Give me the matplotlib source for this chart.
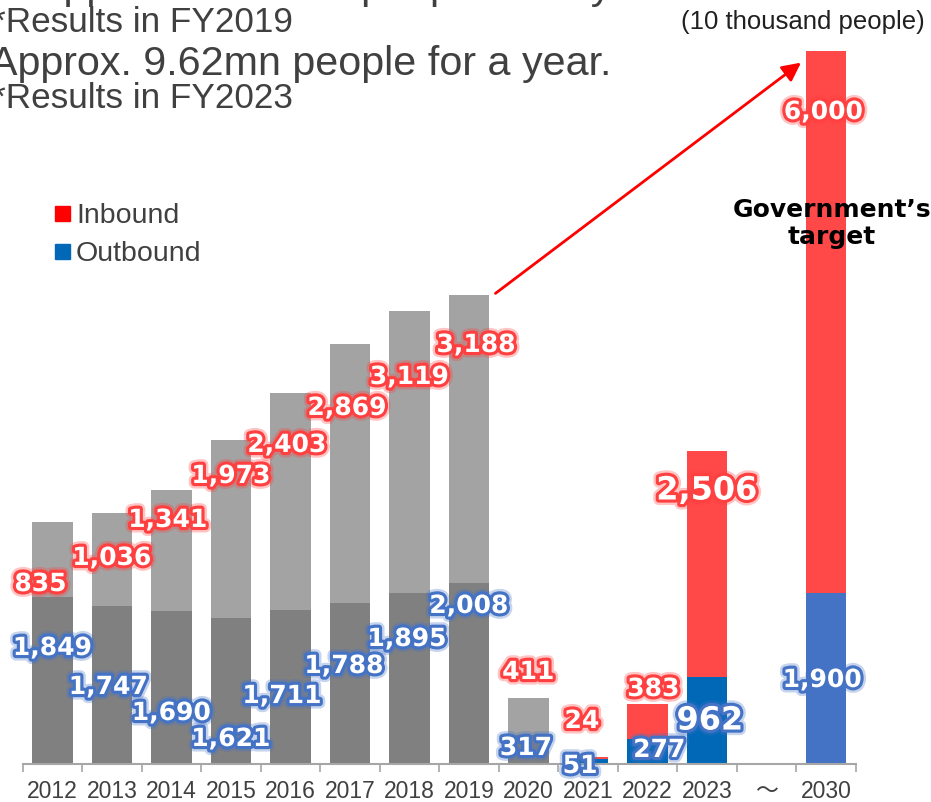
import matplotlib
matplotlib.use("Agg")
import matplotlib.pyplot as plt
import matplotlib.patheffects as pe
import numpy as np

# data (10 thousand people)
years = ["2012", "2013", "2014", "2015", "2016", "2017", "2018", "2019",
         "2020", "2021", "2022", "2023", "～", "2030"]
inbound = [835, 1036, 1341, 1973, 2403, 2869, 3119, 3188, 411, 24, 383, 2506, 0, 6000]
outbound = [1849, 1747, 1690, 1621, 1711, 1788, 1895, 2008, 317, 51, 277, 962, 0, 1900]

# colours per bar
GREY_D, GREY_L = "#808080", "#A3A3A3"
RED, BLUE, BLUE2 = "#FF4848", "#0068B7", "#4472C4"
in_colors = [GREY_L] * 9 + [RED, RED, RED, RED, RED]
out_colors = [GREY_D] * 9 + [BLUE, BLUE, BLUE, BLUE, BLUE2]

# label placement (value axis position, x shift in category units)
in_lab_y = [1994, 2283, 2704, 3191, 3535, 3945, 4288, 4643, 1019, 476, 831, 3025, None, 7224]
in_lab_dx = [-0.2, 0, -0.06, 0, -0.06, -0.05, 0, 0.12, 0, -0.1, 0.1, 0, 0, -0.04]
out_lab_y = [1285, 853, 565, 277, 753, 1086, 1385, 1751, 177, -22, 155, 476, None, 931]
out_lab_dx = [0, -0.06, 0, 0, -0.14, -0.1, -0.04, 0, -0.04, -0.13, 0.2, 0.05, 0, -0.06]

W, H = 931, 803
TXT = "#404040"
SANS = ["Liberation Sans", "DejaVu Sans", "Noto Sans CJK JP"]


def px(x, y):
    return x / W, 1 - y / H


fig = plt.figure(figsize=(W / 100, H / 100), dpi=100)
ax = fig.add_axes([22.6 / W, 38 / H, 833 / W, 722 / H])

x = np.arange(len(years))
bw = 0.68
ax.bar(x, outbound, bw, color=out_colors, zorder=2)
ax.bar(x, inbound, bw, bottom=outbound, color=in_colors, zorder=2)

ax.set_xlim(-0.5, len(years) - 0.5)
ax.set_ylim(0, 8000)
for s in ["top", "right", "left"]:
    ax.spines[s].set_visible(False)
ax.spines["bottom"].set_color("#A6A6A6")
ax.spines["bottom"].set_linewidth(1.5)
ax.set_yticks([])

# ticks between categories, labels at centres
ax.set_xticks(np.arange(-0.5, len(years), 1.0))
ax.set_xticklabels([])
ax.tick_params(axis="x", which="major", length=6, width=1.2, color="#A6A6A6")
ax.set_xticks(x, minor=True)
ax.set_xticklabels(years, minor=True, fontsize=16.5, color=TXT, family=SANS)
ax.tick_params(axis="x", which="minor", length=0, pad=11)


def glow(c):
    return [pe.withStroke(linewidth=8, foreground=c, alpha=0.3),
            pe.withStroke(linewidth=4.5, foreground=c)]


for i in range(len(years)):
    big = 23 if years[i] == "2023" else 18
    if in_lab_y[i] is not None:
        ax.text(i + in_lab_dx[i], in_lab_y[i], f"{inbound[i]:,}", ha="center", va="center",
                fontsize=big, fontweight="bold", color="white", family="DejaVu Sans",
                path_effects=glow("#FF4040"), zorder=5)
    if out_lab_y[i] is not None:
        ax.text(i + out_lab_dx[i], out_lab_y[i], f"{outbound[i]:,}", ha="center", va="center",
                fontsize=big, fontweight="bold", color="white", family="DejaVu Sans",
                path_effects=glow("#4472C4"), zorder=5)

# arrow from 2019 total to 2030 target
tot = [a + b for a, b in zip(inbound, outbound)]
ax.annotate("", xy=(13 - bw / 2 - 0.04, tot[13] - 110), xytext=(7 + bw / 2 + 0.07, tot[7]),
            arrowprops=dict(arrowstyle="-|>", color="red", lw=2, mutation_scale=28),
            zorder=4)

ax.text(13.1, 6000, "Government’s\ntarget", ha="center", va="center", fontsize=18,
        fontweight="bold", color="black", family="DejaVu Sans", linespacing=1.15, zorder=6)

# legend
for yy, c, lab in [(215, "#FF0000", "Inbound"), (253, "#0068B7", "Outbound")]:
    fig.patches.append(plt.Rectangle(px(55, yy + 7), 15 / W, 15 / H, color=c,
                                     transform=fig.transFigure))
    fig.text(*px(76, yy + 1), lab, fontsize=20.5, color=TXT, va="center", family=SANS)

# header texts
fig.text(*px(36, -1), "Approx. 31.88mn people for a year.", fontsize=29.7, color=TXT,
         va="baseline", family=SANS)
fig.text(*px(-8, 32), "*Results in FY2019", fontsize=25.3, color=TXT, va="baseline", family=SANS)
fig.text(*px(-10, 75), "Approx. 9.62mn people for a year.", fontsize=29.7, color=TXT,
         va="baseline", family=SANS)
fig.text(*px(-8, 108), "*Results in FY2023", fontsize=25.3, color=TXT, va="baseline", family=SANS)
fig.text(*px(925, 22), "(10 thousand people)", fontsize=18.5, color="#202020", ha="right",
         va="center", family=SANS)

fig.savefig("out.png", dpi=100)
